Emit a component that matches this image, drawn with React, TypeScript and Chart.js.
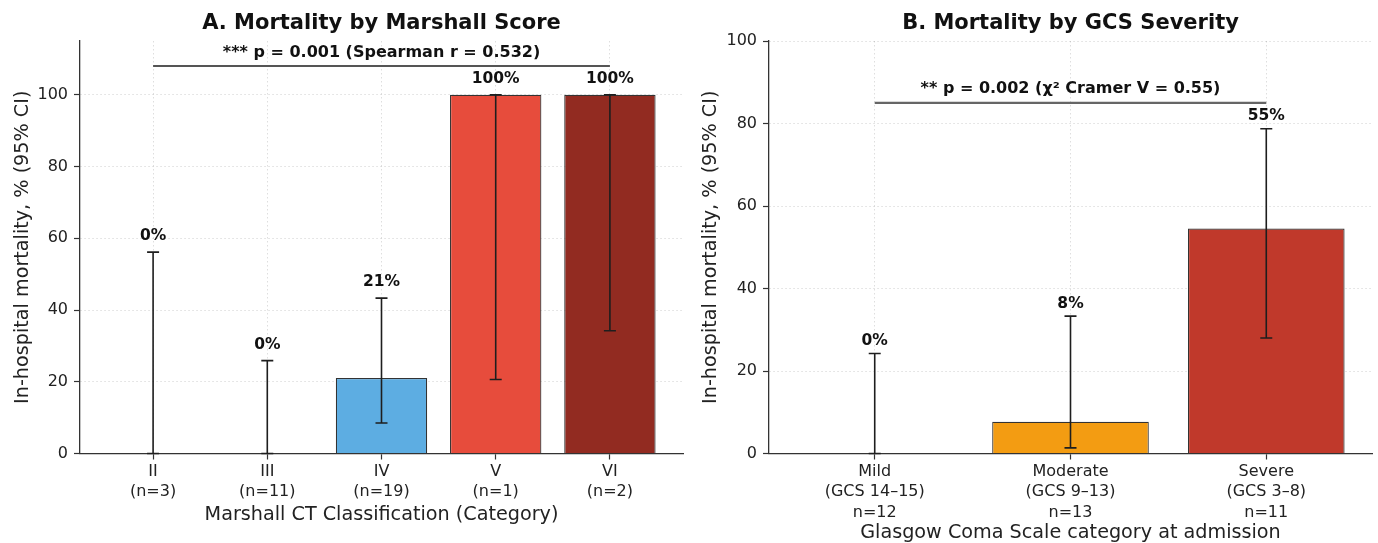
import React, { useEffect, useRef } from "react";
import { Chart, registerables } from "chart.js";
Chart.register(...registerables);

const FAMILY = '"DejaVu Sans", "Liberation Sans", sans-serif';

// ---- Panel A: Marshall CT classification ----
const marshallCats = ["II", "III", "IV", "V", "VI"];
const marshallN = ["(n=3)", "(n=11)", "(n=19)", "(n=1)", "(n=2)"];
const marshallMortality = [0, 0, 21.05, 100, 100];
const marshallCiLow = [0, 0, 8.5, 20.65, 34.24];
const marshallCiHigh = [56.15, 25.88, 43.33, 100, 100];
const marshallColors = ["#2ECC71", "#F1C40F", "#5DADE2", "#E74C3C", "#922B21"];
const marshallYTicks = [0, 20, 40, 60, 80, 100];

// ---- Panel B: GCS severity ----
const gcsCats = ["Mild", "Moderate", "Severe"];
const gcsRanges = ["(GCS 14–15)", "(GCS 9–13)", "(GCS 3–8)"];
const gcsN = ["n=12", "n=13", "n=11"];
const gcsMortality = [0, 7.69, 54.55];
const gcsCiLow = [0, 1.37, 28.0];
const gcsCiHigh = [24.25, 33.31, 78.73];
const gcsColors = ["#27AE60", "#F39C12", "#C0392B"];
const gcsYTicks = [0, 20, 40, 60, 80, 100];

type Spec = {
  labels: string[][];
  values: number[];
  lo: number[];
  hi: number[];
  colors: string[];
  yTicks: number[];
  xMin: number;
  xMax: number;
  yMax: number;
  title: string;
  xTitle: string;
  yTitle: string;
  xTitleY: number;
  yTitleX: number;
  sigText: string;
  sigFrom: number;
  sigTo: number;
  sigLevel: number;
  sigTextLevel: number;
  sigColor: string;
  sigWidth: number;
  labelGap: number;
};

const specA: Spec = {
  labels: marshallCats.map((c, i) => [c, marshallN[i]]),
  values: marshallMortality,
  lo: marshallCiLow,
  hi: marshallCiHigh,
  colors: marshallColors,
  yTicks: marshallYTicks,
  xMin: -0.64,
  xMax: 4.64,
  yMax: 115,
  title: "A. Mortality by Marshall Score",
  xTitle: "Marshall CT Classification (Category)",
  yTitle: "In-hospital mortality, % (95% CI)",
  xTitleY: 515,
  yTitleX: 23,
  sigText: "*** p = 0.001 (Spearman r = 0.532)",
  sigFrom: 0,
  sigTo: 4,
  sigLevel: 108,
  sigTextLevel: 111.7,
  sigColor: "#555",
  sigWidth: 2,
  labelGap: 16,
};

const specB: Spec = {
  labels: gcsCats.map((c, i) => [c, gcsRanges[i], gcsN[i]]),
  values: gcsMortality,
  lo: gcsCiLow,
  hi: gcsCiHigh,
  colors: gcsColors,
  yTicks: gcsYTicks,
  xMin: -0.54,
  xMax: 2.54,
  yMax: 100,
  title: "B. Mortality by GCS Severity",
  xTitle: "Glasgow Coma Scale category at admission",
  yTitle: "In-hospital mortality, % (95% CI)",
  xTitleY: 533,
  yTitleX: 22,
  sigText: "** p = 0.002 (χ² Cramer V = 0.55)",
  sigFrom: 0,
  sigTo: 2,
  sigLevel: 85,
  sigTextLevel: 88.5,
  sigColor: "#666",
  sigWidth: 2.4,
  labelGap: 12.5,
};

function createChart(canvas: HTMLCanvasElement, s: Spec) {
  const overlay = {
    id: "overlay",
    afterDatasetsDraw(chart: any) {
      const ctx: CanvasRenderingContext2D = chart.ctx;
      const x = chart.scales.x;
      const y = chart.scales.y;
      const area = chart.chartArea;
      ctx.save();
      // error bars + value labels
      s.values.forEach((v, i) => {
        const px = x.getPixelForValue(i);
        const yl = y.getPixelForValue(s.lo[i]);
        const yh = y.getPixelForValue(s.hi[i]);
        ctx.strokeStyle = "#1e1e1e";
        ctx.lineWidth = 1.6;
        ctx.beginPath();
        ctx.moveTo(px, yl);
        ctx.lineTo(px, yh);
        ctx.moveTo(px - 6, yl);
        ctx.lineTo(px + 6, yl);
        ctx.moveTo(px - 6, yh);
        ctx.lineTo(px + 6, yh);
        ctx.stroke();
        ctx.fillStyle = "#111";
        ctx.font = `bold 15.5px ${FAMILY}`;
        ctx.textAlign = "center";
        ctx.textBaseline = "middle";
        ctx.fillText(`${Math.round(v)}%`, px, yh - s.labelGap);
      });
      // significance bar
      const sx1 = x.getPixelForValue(s.sigFrom);
      const sx2 = x.getPixelForValue(s.sigTo);
      const sy = y.getPixelForValue(s.sigLevel);
      ctx.strokeStyle = s.sigColor;
      ctx.lineWidth = s.sigWidth;
      ctx.beginPath();
      ctx.moveTo(sx1, sy);
      ctx.lineTo(sx2, sy);
      ctx.stroke();
      ctx.fillStyle = "#111";
      ctx.font = `bold 16px ${FAMILY}`;
      ctx.textAlign = "center";
      ctx.textBaseline = "middle";
      ctx.fillText(s.sigText, (sx1 + sx2) / 2, y.getPixelForValue(s.sigTextLevel));
      // title
      const cx = (area.left + area.right) / 2;
      ctx.font = `bold 21px ${FAMILY}`;
      ctx.fillStyle = "#111";
      ctx.fillText(s.title, cx, 24);
      // x title
      ctx.font = `19.2px ${FAMILY}`;
      ctx.fillStyle = "#222";
      ctx.fillText(s.xTitle, cx, s.xTitleY);
      // y title
      ctx.translate(s.yTitleX, (area.top + area.bottom) / 2);
      ctx.rotate(-Math.PI / 2);
      ctx.fillText(s.yTitle, 0, 0);
      ctx.restore();
    },
  };

  const gridCommon = {
    color: "rgba(0,0,0,0.13)",
    lineWidth: 1,
    tickColor: "#333",
    tickWidth: 1.2,
    tickLength: 6,
    tickBorderDash: [],
    offset: false,
  };
  const borderCommon = { display: true, color: "#333", width: 1.3, dash: [1.5, 2.5] };

  return new Chart(canvas, {
    type: "bar",
    data: {
      datasets: [
        {
          data: s.values.map((v, i) => ({ x: i, y: v })),
          backgroundColor: s.colors,
          borderColor: "#333",
          borderWidth: 1.2,
          categoryPercentage: 1,
          barPercentage: 0.8,
        },
      ],
    },
    options: {
      responsive: false,
      animation: false,
      devicePixelRatio: 1,
      layout: { padding: { top: 41, right: 6, left: 0, bottom: 0 } },
      plugins: {
        legend: { display: false },
        tooltip: { enabled: false },
        title: { display: false },
      },
      scales: {
        x: {
          type: "linear",
          min: s.xMin,
          max: s.xMax,
          offset: false,
          afterBuildTicks: (ax: any) => {
            ax.ticks = s.values.map((_, i) => ({ value: i }));
          },
          afterFit: (ax: any) => {
            ax.height = 89.5;
          },
          ticks: {
            callback: (v: any) => s.labels[Math.round(Number(v))],
            font: { size: 16, family: FAMILY, lineHeight: 1.28 },
            color: "#222",
            padding: 2,
            maxRotation: 0,
            minRotation: 0,
            autoSkip: false,
          },
          grid: gridCommon,
          border: borderCommon,
        },
        y: {
          type: "linear",
          min: 0,
          max: s.yMax,
          afterBuildTicks: (ax: any) => {
            ax.ticks = s.yTicks.map((v) => ({ value: v }));
          },
          afterFit: (ax: any) => {
            ax.width = 80;
          },
          ticks: {
            font: { size: 16, family: FAMILY },
            color: "#222",
            padding: 6,
          },
          grid: gridCommon,
          border: borderCommon,
        },
      },
    } as any,
    plugins: [overlay],
  });
}

export default function App() {
  const ref1 = useRef<HTMLCanvasElement>(null);
  const ref2 = useRef<HTMLCanvasElement>(null);
  useEffect(() => {
    const c1 = createChart(ref1.current!, specA);
    const c2 = createChart(ref2.current!, specB);
    return () => {
      c1.destroy();
      c2.destroy();
    };
  }, []);
  return (
    <div style={{ position: "absolute", left: 0, top: 0, width: 1378, height: 543, background: "#fff" }}>
      <canvas ref={ref1} width={689} height={543} style={{ position: "absolute", left: 0, top: 0 }} />
      <canvas ref={ref2} width={689} height={543} style={{ position: "absolute", left: 689, top: 0 }} />
    </div>
  );
}
